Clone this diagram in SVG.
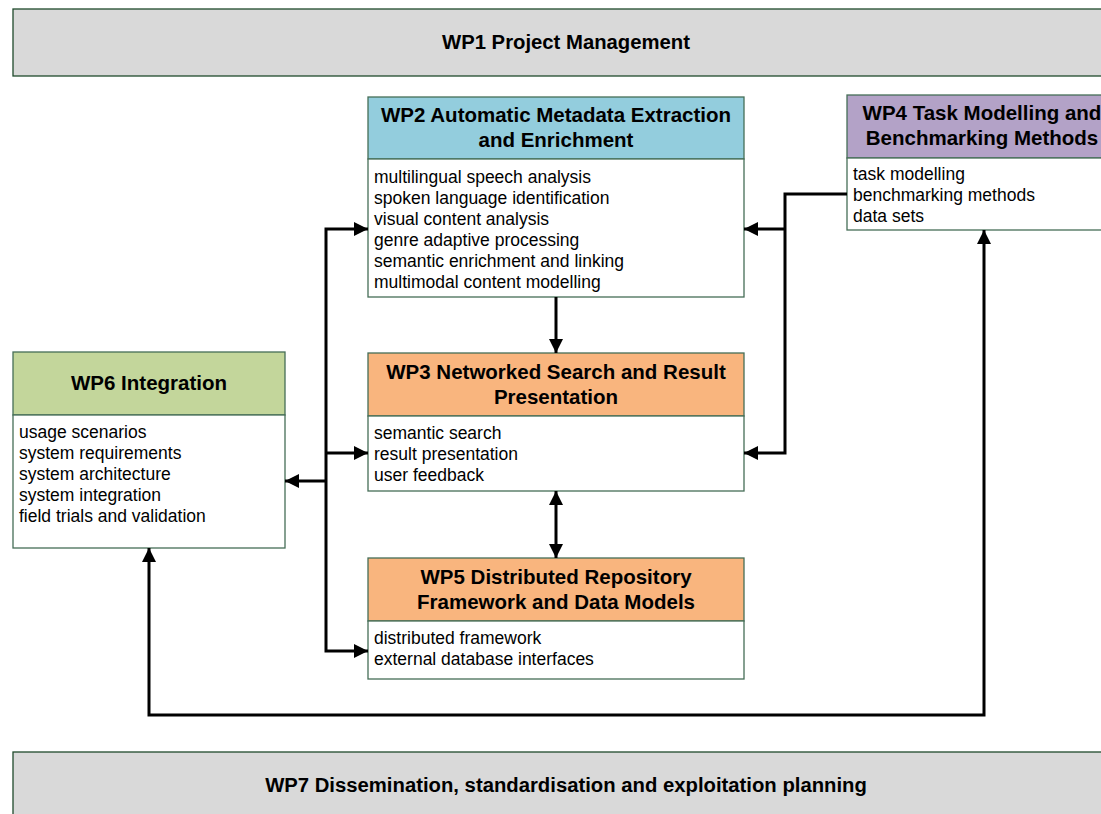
<svg xmlns="http://www.w3.org/2000/svg" width="1101" height="814" viewBox="0 0 1101 814">
<style>
.box{stroke:#466e57;stroke-width:1.3}
.band{fill:#d9d9d9;stroke:#1f4a2c;stroke-width:1.3}
.body{fill:#ffffff}
.t{font-family:"Liberation Sans",Arial,sans-serif;font-weight:bold;font-size:20.5px;fill:#000;text-anchor:middle}
.b{font-family:"Liberation Sans",Arial,sans-serif;font-size:17.5px;fill:#000}
.tb{font-family:"Liberation Sans",Arial,sans-serif;font-weight:bold;font-size:20.3px;fill:#000;text-anchor:middle}
.c{fill:none;stroke:#000;stroke-width:3}
</style>
<defs>
<marker id="ah" viewBox="0 0 14 14" refX="14" refY="7" markerWidth="14" markerHeight="14" markerUnits="userSpaceOnUse" orient="auto-start-reverse">
<path d="M0,0 L14,7 L0,14 Z" fill="#000"/>
</marker>
</defs>
<rect width="1101" height="814" fill="#fff"/>
<g id="wp1">
<rect class="band" x="13" y="9" width="1100" height="67"/>
<text class="tb" x="566" y="49">WP1 Project Management</text>
</g>
<g id="wp7">
<rect class="band" x="13" y="752" width="1100" height="70"/>
<text class="tb" x="566" y="792">WP7 Dissemination, standardisation and exploitation planning</text>
</g>
<g id="wp2">
<rect class="box" x="368" y="97" width="376" height="62" fill="#93cddd"/>
<rect class="box body" x="368" y="159" width="376" height="138"/>
<text class="t" x="556" y="122">WP2 Automatic Metadata Extraction</text>
<text class="t" x="556" y="147">and Enrichment</text>
<text class="b" x="374" y="183">multilingual speech analysis</text>
<text class="b" x="374" y="204">spoken language identification</text>
<text class="b" x="374" y="225">visual content analysis</text>
<text class="b" x="374" y="246">genre adaptive processing</text>
<text class="b" x="374" y="267">semantic enrichment and linking</text>
<text class="b" x="374" y="288">multimodal content modelling</text>
</g>
<g id="wp4">
<rect class="box" x="847" y="95" width="270" height="63" fill="#b3a2c7"/>
<rect class="box body" x="847" y="158" width="270" height="72"/>
<text class="t" x="982" y="120">WP4 Task Modelling and</text>
<text class="t" x="982" y="145">Benchmarking Methods</text>
<text class="b" x="853" y="180">task modelling</text>
<text class="b" x="853" y="201">benchmarking methods</text>
<text class="b" x="853" y="222">data sets</text>
</g>
<g id="wp6">
<rect class="box" x="13" y="352" width="272" height="63" fill="#c3d69b"/>
<rect class="box body" x="13" y="415" width="272" height="133"/>
<text class="t" x="149" y="390">WP6 Integration</text>
<text class="b" x="19" y="438">usage scenarios</text>
<text class="b" x="19" y="459">system requirements</text>
<text class="b" x="19" y="480">system architecture</text>
<text class="b" x="19" y="501">system integration</text>
<text class="b" x="19" y="522">field trials and validation</text>
</g>
<g id="wp3">
<rect class="box" x="368" y="353" width="376" height="63" fill="#f9b57e"/>
<rect class="box body" x="368" y="416" width="376" height="75"/>
<text class="t" x="556" y="379">WP3 Networked Search and Result</text>
<text class="t" x="556" y="404">Presentation</text>
<text class="b" x="374" y="439">semantic search</text>
<text class="b" x="374" y="460">result presentation</text>
<text class="b" x="374" y="481">user feedback</text>
</g>
<g id="wp5">
<rect class="box" x="368" y="558" width="376" height="63" fill="#f9b57e"/>
<rect class="box body" x="368" y="621" width="376" height="58"/>
<text class="t" x="556" y="584">WP5 Distributed Repository</text>
<text class="t" x="556" y="609">Framework and Data Models</text>
<text class="b" x="374" y="644">distributed framework</text>
<text class="b" x="374" y="665">external database interfaces</text>
</g>
<g id="connectors">
<path class="c" d="M368,229 H326 V651 H368" marker-start="url(#ah)" marker-end="url(#ah)"/>
<path class="c" d="M326,453 H368" marker-end="url(#ah)"/>
<path class="c" d="M326,481 H285" marker-end="url(#ah)"/>
<path class="c" d="M847,194 H785 V453 H744" marker-end="url(#ah)"/>
<path class="c" d="M785,229 H744" marker-end="url(#ah)"/>
<path class="c" d="M556,297 V353" marker-end="url(#ah)"/>
<path class="c" d="M556,491 V558" marker-start="url(#ah)" marker-end="url(#ah)"/>
<path class="c" d="M149,548 V715 H984 V230" marker-start="url(#ah)" marker-end="url(#ah)"/>
</g>
</svg>
